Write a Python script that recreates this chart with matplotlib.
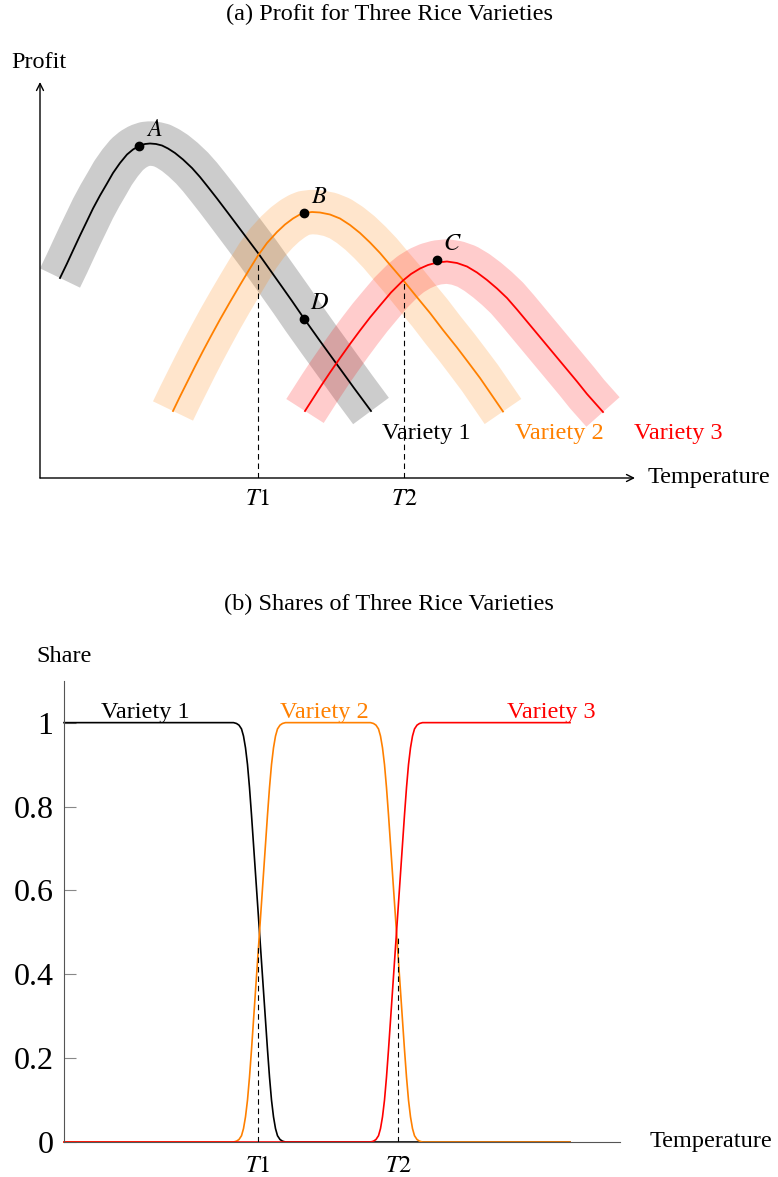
import matplotlib
matplotlib.use('Agg')
import matplotlib.pyplot as plt

plt.rcParams['font.family'] = ['Liberation Serif', 'DejaVu Serif']
plt.rcParams['mathtext.fontset'] = 'stix'

W, H = 778, 1177
ORANGE = '#ff8000'

# (a) profit curves: temperature, profit (arbitrary units)
v1_temp = [0.20, 0.27, 0.33, 0.40, 0.47, 0.53, 0.60, 0.67, 0.73, 0.80, 0.87, 0.93,
           0.99, 1.05, 1.10, 1.16, 1.22, 1.28, 1.35, 1.43, 1.52, 1.60, 1.68, 1.77,
           1.88, 2.00, 2.09, 2.18, 2.29, 2.40, 2.52, 2.64, 2.80, 2.97, 3.14, 3.31]
v1_profit = [2.00, 2.145, 2.275, 2.425, 2.57, 2.695, 2.825, 2.945, 3.05, 3.15, 3.235, 3.285,
             3.32, 3.34, 3.345, 3.34, 3.325, 3.295, 3.25, 3.185, 3.10, 3.01, 2.91, 2.795,
             2.65, 2.49, 2.37, 2.25, 2.095, 1.94, 1.77, 1.595, 1.37, 1.135, 0.90, 0.67]
v2_temp = [1.33, 1.40, 1.47, 1.55, 1.63, 1.71, 1.80, 1.90, 2.00, 2.09, 2.18, 2.27,
           2.37, 2.45, 2.53, 2.59, 2.64, 2.72, 2.80, 2.90, 3.00, 3.10, 3.20, 3.30,
           3.40, 3.51, 3.63, 3.76, 3.90, 4.03, 4.17, 4.28, 4.40, 4.51, 4.63]
v2_profit = [0.67, 0.815, 0.955, 1.115, 1.27, 1.42, 1.585, 1.76, 1.93, 2.08, 2.225, 2.35,
             2.46, 2.535, 2.595, 2.63, 2.65, 2.66, 2.655, 2.635, 2.595, 2.53, 2.45, 2.355,
             2.25, 2.12, 1.98, 1.82, 1.65, 1.48, 1.305, 1.16, 1.00, 0.84, 0.665]
v3_temp = [2.65, 2.73, 2.81, 2.90, 2.99, 3.10, 3.20, 3.30, 3.40, 3.51, 3.63, 3.71,
           3.80, 3.88, 3.97, 4.07, 4.17, 4.27, 4.37, 4.47, 4.57, 4.67, 4.77, 4.87,
           4.97, 5.07, 5.17, 5.27, 5.37, 5.47, 5.55, 5.63]
v3_profit = [0.67, 0.795, 0.92, 1.055, 1.185, 1.34, 1.475, 1.605, 1.725, 1.855, 1.975, 2.04,
             2.095, 2.13, 2.155, 2.165, 2.15, 2.115, 2.055, 1.98, 1.895, 1.80, 1.685, 1.565,
             1.445, 1.325, 1.205, 1.085, 0.965, 0.84, 0.75, 0.66]

point_names = ['A', 'B', 'C', 'D']
point_temp = [0.99, 2.64, 3.97, 2.64]
point_profit = [3.32, 2.65, 2.18, 1.595]

t1_top, t2_top = 2.18, 3.64          # thresholds on the profit axis
t1_cross, t2_cross = 2.16, 1.98      # where the dashed guides stop

# (b) shares
share_temp = [0.00,
              1.695, 1.725, 1.75, 1.775, 1.795, 1.815, 1.835, 1.855, 1.875, 1.895, 1.915, 1.935,
              1.955, 1.975, 1.995, 2.015, 2.035, 2.055, 2.075, 2.095, 2.115, 2.135, 2.16, 2.185, 2.215,
              3.065, 3.095, 3.12, 3.145, 3.165, 3.185, 3.205, 3.225, 3.245, 3.265, 3.285, 3.305,
              3.325, 3.345, 3.365, 3.385, 3.405, 3.425, 3.445, 3.465, 3.485, 3.505, 3.53, 3.555, 3.585,
              5.06]
share_v1 = [1.0,
            1.0, 0.998, 0.994, 0.985, 0.968, 0.94, 0.9, 0.845, 0.78, 0.71, 0.64, 0.57,
            0.5, 0.43, 0.36, 0.29, 0.22, 0.155, 0.1, 0.06, 0.032, 0.015, 0.006, 0.002, 0.0,
            0.0, 0.0, 0.0, 0.0, 0.0, 0.0, 0.0, 0.0, 0.0, 0.0, 0.0, 0.0,
            0.0, 0.0, 0.0, 0.0, 0.0, 0.0, 0.0, 0.0, 0.0, 0.0, 0.0, 0.0, 0.0,
            0.0]
share_v2 = [0.0,
            0.0, 0.002, 0.006, 0.015, 0.032, 0.06, 0.1, 0.155, 0.22, 0.29, 0.36, 0.43,
            0.5, 0.57, 0.64, 0.71, 0.78, 0.845, 0.9, 0.94, 0.968, 0.985, 0.994, 0.998, 1.0,
            1.0, 0.998, 0.994, 0.985, 0.968, 0.94, 0.9, 0.845, 0.78, 0.71, 0.64, 0.57,
            0.5, 0.43, 0.36, 0.29, 0.22, 0.155, 0.1, 0.06, 0.032, 0.015, 0.006, 0.002, 0.0,
            0.0]
share_v3 = [0.0,
            0.0, 0.0, 0.0, 0.0, 0.0, 0.0, 0.0, 0.0, 0.0, 0.0, 0.0, 0.0,
            0.0, 0.0, 0.0, 0.0, 0.0, 0.0, 0.0, 0.0, 0.0, 0.0, 0.0, 0.0, 0.0,
            0.0, 0.002, 0.006, 0.015, 0.032, 0.06, 0.1, 0.155, 0.22, 0.29, 0.36, 0.43,
            0.5, 0.57, 0.64, 0.71, 0.78, 0.845, 0.9, 0.94, 0.968, 0.985, 0.994, 0.998, 1.0,
            1.0]
share_ticks = [0, 0.2, 0.4, 0.6, 0.8, 1.0]
share_ticklabels = ['0', '0.2', '0.4', '0.6', '0.8', '1']
b_t1, b_t2 = 1.935, 3.34
b_cross1, b_cross2 = 0.47, 0.49

labels = ['Variety 1', 'Variety 2', 'Variety 3']
colors = ['black', ORANGE, 'red']

TXT = 17.5


def px_axes(fig, left, top, right, bottom):
    return fig.add_axes([left / W, 1 - bottom / H, (right - left) / W, (bottom - top) / H])


fig = plt.figure(figsize=(W / 100, H / 100), dpi=100)

# ---------------- (a) profit ----------------
ax = px_axes(fig, 40, 82, 635, 478)
ax.set_xlim(0, 5.95)
ax.set_ylim(0, 3.96)
for s in ax.spines.values():
    s.set_visible(False)
ax.set_xticks([t1_top, t2_top], ['$T1$', '$T2$'], fontsize=TXT)
ax.set_yticks([])
ax.tick_params(axis='x', length=0, pad=8)

arrow = dict(arrowstyle='->,head_length=0.5,head_width=0.25', lw=1.0, color='black',
             shrinkA=0, shrinkB=0)
ax.annotate('', xy=(1, 0), xytext=(0, 0), xycoords='axes fraction', arrowprops=arrow)
ax.annotate('', xy=(0, 1), xytext=(0, 0), xycoords='axes fraction', arrowprops=arrow)

curves = [(v1_temp, v1_profit), (v2_temp, v2_profit), (v3_temp, v3_profit)]
for (x, y), c in zip(curves, colors):
    ax.plot(x, y, color=c, alpha=0.2, lw=32, solid_capstyle='butt',
            solid_joinstyle='round', clip_on=False)
for (x, y), c in zip(curves, colors):
    ax.plot(x, y, color=c, lw=1.3, clip_on=False)

ax.plot([t1_top, t1_top], [0, t1_cross], color='black', lw=0.8, dashes=(5, 3.5))
ax.plot([t2_top, t2_top], [0, t2_cross], color='black', lw=0.8, dashes=(5, 3.5))

ax.plot(point_temp, point_profit, 'o', color='black', ms=6, clip_on=False)
for name, x, y in zip(point_names, point_temp, point_profit):
    ax.annotate(f'${name}$', (x, y), xytext=(11, 11), textcoords='offset points',
                fontsize=TXT, ha='center', va='center')

label_x = [3.86, 5.19, 6.38]
for lab, x, c in zip(labels, label_x, colors):
    ax.text(x, 0.395, lab, color=c, fontsize=TXT, ha='center', va='baseline')

fig.text(389 / W, 1 - 14 / H, '(a) Profit for Three Rice Varieties', fontsize=TXT,
         ha='center', va='center')
fig.text(39 / W, 1 - 63 / H, 'Profit', fontsize=TXT, ha='center', va='center')
fig.text(648 / W, 1 - 477 / H, 'Temperature', fontsize=TXT, ha='left', va='center')

# ---------------- (b) shares ----------------
bx = px_axes(fig, 64, 680.7, 620, 1142)
bx.set_xlim(0, 5.56)
bx.set_ylim(0, 1.1)
bx.spines['top'].set_visible(False)
bx.spines['right'].set_visible(False)
bx.spines['left'].set_color('#555555')
bx.spines['bottom'].set_color('#555555')
bx.spines['left'].set_linewidth(0.8)
bx.spines['bottom'].set_linewidth(0.8)

bx.set_yticks(share_ticks, share_ticklabels, fontsize=23)
bx.tick_params(axis='y', direction='in', length=8.6, width=0.8, color='#888888', pad=7.5)
bx.set_xticks([b_t1, b_t2], ['$T1$', '$T2$'], fontsize=TXT)
bx.tick_params(axis='x', length=0, pad=10)

for s, c in zip([share_v1, share_v2, share_v3], colors):
    bx.plot(share_temp, s, color=c, lw=1.2, clip_on=False)

bx.plot([b_t1, b_t1], [0, b_cross1], color='black', lw=0.8, dashes=(5, 3.5))
bx.plot([b_t2, b_t2], [0, b_cross2], color='black', lw=0.8, dashes=(5, 3.5))

share_label_x = [0.81, 2.60, 4.87]
for lab, x, c in zip(labels, share_label_x, colors):
    bx.text(x, 1.012, lab, color=c, fontsize=TXT, ha='center', va='baseline')

fig.text(389 / W, 1 - 604 / H, '(b) Shares of Three Rice Varieties', fontsize=TXT,
         ha='center', va='center')
fig.text(64 / W, 1 - 657 / H, 'Share', fontsize=TXT, ha='center', va='center')
fig.text(650 / W, 1 - 1141 / H, 'Temperature', fontsize=TXT, ha='left', va='center')

fig.savefig('out.png', dpi=100)
plt.close(fig)
